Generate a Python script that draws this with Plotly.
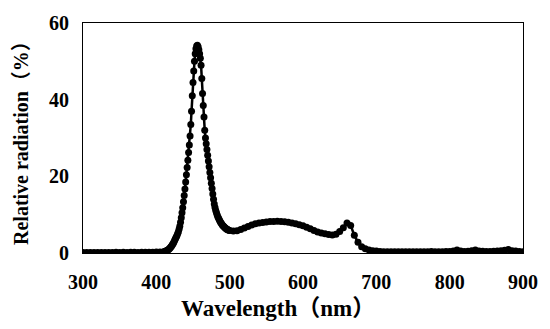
import plotly.graph_objects as go

# Wavelength (nm) and relative radiation (%)
wl_low = [300, 305, 310, 315, 320, 325, 330, 335, 340, 345, 350, 355, 360, 365, 370,
          375, 380, 385, 390, 395, 400, 405]
rad_low = [0.1, 0.1, 0.1, 0.15, 0.1, 0.15, 0.1, 0.1, 0.15, 0.2, 0.15, 0.2, 0.15, 0.2, 0.2,
           0.15, 0.2, 0.2, 0.2, 0.2, 0.25, 0.25]

wl_peak = list(range(410, 500))
rad_peak = [0.3, 0.3, 0.4, 0.5, 0.6, 0.7, 0.8, 1.0, 1.2, 1.4,
            1.6, 1.9, 2.2, 2.5, 2.9, 3.3, 3.7, 4.1, 4.5, 5.0,
            5.5, 6.2, 7.0, 8.0, 9.2, 10.5, 11.8, 13.4, 15.0, 16.7,
            18.5, 20.4, 22.3, 24.2, 26.2, 28.2, 30.5, 33.5, 37.0, 41.0,
            44.5, 47.5, 50.0, 52.0, 53.3, 54.0, 54.2, 53.8, 53.0, 52.0,
            50.8, 49.0, 45.5, 41.6, 38.5, 35.5, 32.0, 30.0, 28.5, 27.0,
            25.5, 24.0, 22.5, 21.0, 19.6, 18.2, 16.8, 15.4, 14.0, 12.8,
            11.9, 11.1, 10.5, 9.9, 9.4, 9.0, 8.6, 8.2, 7.9, 7.6,
            7.3, 7.1, 6.9, 6.7, 6.5, 6.4, 6.2, 6.1, 6.0, 5.95]

wl_high = [500, 505, 510, 515, 520, 525, 530, 535, 540, 545, 550, 555, 560, 565, 570,
           575, 580, 585, 590, 595, 600, 605, 610, 615, 620, 625, 630, 635, 640, 645,
           650, 655, 660, 665, 670, 675, 680, 685, 690, 695, 700, 705, 710, 715, 720,
           725, 730, 735, 740, 745, 750, 755, 760, 765, 770, 775, 780, 785, 790, 795,
           800, 805, 810, 815, 820, 825, 830, 835, 840, 845, 850, 855, 860, 865, 870,
           875, 880, 885, 890, 895, 900]
rad_high = [5.9, 5.75, 5.8, 6.1, 6.5, 6.9, 7.3, 7.6, 7.8, 7.95, 8.1, 8.2, 8.25, 8.3, 8.25,
            8.15, 8.0, 7.85, 7.65, 7.4, 7.1, 6.7, 6.3, 5.9, 5.5, 5.2, 5.0, 4.8, 4.7, 4.9,
            5.6, 6.6, 7.8, 7.2, 4.6, 2.8, 1.6, 1.1, 0.8, 0.6, 0.5, 0.4, 0.35, 0.3, 0.3,
            0.3, 0.35, 0.3, 0.3, 0.35, 0.3, 0.3, 0.35, 0.3, 0.3, 0.4, 0.35, 0.3, 0.35, 0.4,
            0.4, 0.5, 0.8, 0.5, 0.4, 0.45, 0.6, 0.8, 0.5, 0.45, 0.4, 0.4, 0.45, 0.5, 0.6,
            0.7, 0.9, 0.6, 0.5, 0.4, 0.3]

x_ticks = [300, 400, 500, 600, 700, 800, 900]
y_ticks = [0, 20, 40, 60]

wavelength = wl_low + wl_peak + wl_high
radiation = rad_low + rad_peak + rad_high

serif = "Liberation Serif, Times New Roman, serif"
cjk = "Liberation Serif, Noto Sans CJK SC, serif"

fig = go.Figure()
fig.add_trace(go.Scatter(
    x=wavelength, y=radiation, mode="lines+markers",
    line=dict(color="black", width=2.5),
    marker=dict(color="black", size=7),
    showlegend=False,
))

axis_common = dict(
    showline=True, linecolor="black", linewidth=1, mirror=True,
    showgrid=False, zeroline=False, ticks="",
    tickfont=dict(family=serif, size=20, color="black", weight="bold"),
)
fig.update_xaxes(range=[300, 900], tickvals=x_ticks, ticklabelstandoff=11, **axis_common)
fig.update_yaxes(range=[0, 60], tickvals=y_ticks, ticklabelstandoff=9,
                 ticklabeloverflow="allow", **axis_common)

fig.add_annotation(
    text="<b>Relative radiation（%）</b>", xref="paper", yref="paper",
    x=0, y=0.5, xanchor="center", yanchor="middle", xshift=-62, textangle=-90,
    showarrow=False, font=dict(family=cjk, size=20, color="black"),
)
fig.add_annotation(
    text="<b>Wavelength（nm）</b>", xref="paper", yref="paper",
    x=(279 - 83) / 442, y=0, xanchor="center", yanchor="middle", yshift=-55,
    showarrow=False, font=dict(family=cjk, size=23, color="black"),
)

fig.update_layout(
    width=550, height=329,
    margin=dict(l=83, r=25, t=13, b=76),
    paper_bgcolor="white", plot_bgcolor="white",
)

# remove the default 8px page margin so the figure fills the window exactly
fig.write_html("out.html", config={"displayModeBar": False},
               post_script="document.body.style.margin='0';")
